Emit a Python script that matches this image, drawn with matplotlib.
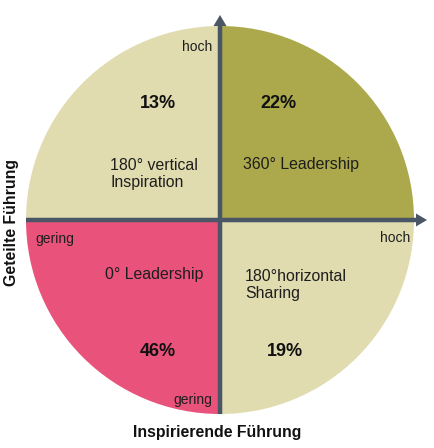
import matplotlib
matplotlib.use("Agg")
import matplotlib.pyplot as plt
from matplotlib.patches import Wedge, FancyArrow

plt.rcParams['font.family'] = ['Liberation Sans', 'DejaVu Sans']

# quadrants, counter-clockwise starting at top-right
quadrants = ["360° Leadership", "180° vertical\nInspiration", "0° Leadership", "180°horizontal\nSharing"]
shares = [22, 13, 46, 19]
colors = ["#aba94b", "#e0dcb0", "#e9527b", "#e0dcb0"]

fig = plt.figure(figsize=(4.34, 4.48), dpi=100)
ax = fig.add_axes([0, 0, 1, 1])
ax.set_xlim(0, 434)
ax.set_ylim(448, 0)
ax.axis('off')

cx, cy, r = 220, 220, 194

for i, (name, pct, col) in enumerate(zip(quadrants, shares, colors)):
    # y axis inverted, so angles go clockwise on screen
    t1 = -90 * (i + 1)
    ax.add_patch(Wedge((cx, cy), r, t1, t1 + 90, facecolor=col, edgecolor='none'))

# label positions (pixel offsets relative to center)
pct_pos = [(58, -116), (-62, -116), (-62, 132), (65, 132)]
name_pos = [(23, -56), (-110, -46), (-115, 55), (25, 65)]
for (name, pct), (px, py), (nx, ny) in zip(zip(quadrants, shares), pct_pos, name_pos):
    ax.text(cx + px, cy + py, f"{pct}%", ha='center', va='center',
            fontsize=13, fontweight='bold', color='#111111')
    ax.text(cx + nx, cy + ny, name, ha='left', va='center', fontsize=11.4,
            color='#1e1e1e', linespacing=1.2)

axis_col = '#4a5665'
ax.add_patch(FancyArrow(cx, cy + r, 0, -r - 205, width=4.5, head_width=13,
                        head_length=11, length_includes_head=True,
                        color=axis_col, lw=0))
ax.add_patch(FancyArrow(cx - r, cy, r + 207, 0, width=4.5, head_width=13,
                        head_length=11, length_includes_head=True,
                        color=axis_col, lw=0))

ax.text(197, 47, "hoch", ha='center', va='center', fontsize=10, color='#1e1e1e')
ax.text(395, 238, "hoch", ha='center', va='center', fontsize=10, color='#1e1e1e')
ax.text(35, 239, "gering", ha='left', va='center', fontsize=10, color='#1e1e1e')
ax.text(212, 400, "gering", ha='right', va='center', fontsize=10, color='#1e1e1e')

ax.text(217, 433, "Inspirierende Führung", ha='center', va='center',
        fontsize=11.4, fontweight='bold', color='#111111')
ax.text(12, 222, "Geteilte Führung", ha='center', va='center', rotation=90,
        fontsize=11.4, fontweight='bold', color='#111111')

fig.savefig("out.png", dpi=100)
